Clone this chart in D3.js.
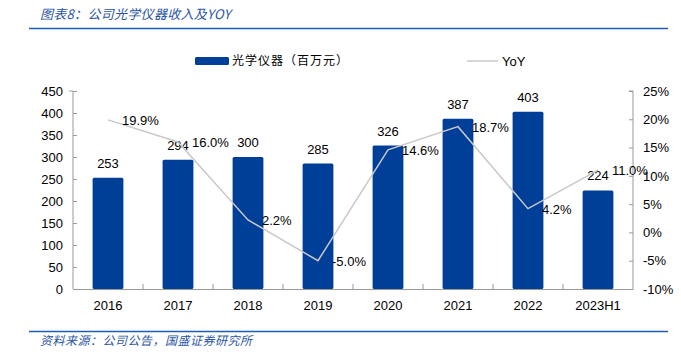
<!DOCTYPE html>
<html><head><meta charset="utf-8">
<script src="https://cdn.jsdelivr.net/npm/d3@7"></script>
<style>body{margin:0;background:#fff;}svg{display:block;font-family:"Liberation Sans",Arial,sans-serif;}</style>
</head><body><svg id="c" width="681" height="355"></svg>
<script>
const categories = ["2016","2017","2018","2019","2020","2021","2022","2023H1"];
const revenue = [253,294,300,285,326,387,403,224];
const yoy = [19.9,16.0,2.2,-5.0,14.6,18.7,4.2,11.0];
const leftTicks = [0,50,100,150,200,250,300,350,400,450];
const rightTicks = [-10,-5,0,5,10,15,20,25];

const svg = d3.select("#c");
const m = {l:73, r:633, t:91, b:289};
const x = d3.scaleBand().domain(categories).range([m.l,m.r]).paddingInner(0.56).paddingOuter(0.28);
const xb = d3.scaleBand().domain(categories).range([m.l,m.r]);
const yL = d3.scaleLinear().domain([0,450]).range([m.b,m.t]);
const yR = d3.scaleLinear().domain([-10,25]).range([m.b,m.t]);
const blue = "#003f98";
const fs = 13;

// title
svg.append("text").attr("x",40).attr("y",19).attr("fill","#2a55a6").attr("font-size",13)
  .attr("font-style","italic").attr("letter-spacing",0.3).attr("font-family","'Noto Sans CJK SC',sans-serif").text("图表8：公司光学仪器收入及YOY");
svg.append("line").attr("x1",29).attr("x2",668).attr("y1",28.5).attr("y2",28.5).attr("stroke","#1f5bb0").attr("stroke-width",1.5);
// footer
svg.append("line").attr("x1",29).attr("x2",668).attr("y1",331.5).attr("y2",331.5).attr("stroke","#1f5bb0").attr("stroke-width",1.5);
svg.append("text").attr("x",40).attr("y",345).attr("fill","#2a55a6").attr("font-size",12)
  .attr("font-style","italic").attr("letter-spacing",0.5).attr("font-family","'Noto Sans CJK SC',sans-serif").text("资料来源：公司公告，国盛证券研究所");

// legend
svg.append("rect").attr("x",195).attr("y",57).attr("width",34).attr("height",8).attr("rx",1.5).attr("fill",blue);
svg.append("text").attr("x",232).attr("y",65).attr("font-size",12).attr("fill","#000").attr("letter-spacing",1)
  .attr("font-family","'Noto Sans CJK SC',sans-serif").text("光学仪器（百万元）");
svg.append("line").attr("x1",467).attr("x2",498).attr("y1",61).attr("y2",61).attr("stroke","#c8c8c8").attr("stroke-width",1.5);
svg.append("text").attr("x",502).attr("y",66).attr("font-size",13).text("YoY");

// axes
const axL = svg.append("g").attr("transform",`translate(${m.l},0)`)
  .call(d3.axisLeft(yL).tickValues(leftTicks).tickSize(-4).tickPadding(10));
const axR = svg.append("g").attr("transform",`translate(${m.r},0)`)
  .call(d3.axisRight(yR).tickValues(rightTicks).tickSize(-4).tickPadding(10).tickFormat(d=>d+"%"));
const axB = svg.append("g").attr("transform",`translate(0,${m.b})`)
  .call(d3.axisBottom(xb).tickSize(0).tickPadding(12));
[axL,axR,axB].forEach(g=>{
  g.selectAll("path").attr("stroke","#999").attr("stroke-width",1);
  g.selectAll("line").attr("stroke","#999");
  g.selectAll("text").attr("font-size",fs).attr("fill","#000").attr("font-family","'Liberation Sans',Arial,sans-serif");
});
axL.select("path").attr("d",`M-4,${m.t}H0V${m.b}`);
axR.select("path").attr("d",`M-4,${m.t}H0V${m.b}`);
// x boundary ticks
const bounds = categories.slice(1).map(c=>xb(c));
svg.append("g").selectAll("line").data(bounds).join("line")
  .attr("x1",d=>d).attr("x2",d=>d).attr("y1",m.b-5).attr("y2",m.b).attr("stroke","#999");

// bars
svg.append("g").selectAll("rect").data(revenue).join("rect")
  .attr("x",(d,i)=>x(categories[i])).attr("width",x.bandwidth())
  .attr("y",d=>yL(d)).attr("height",d=>m.b-yL(d)).attr("rx",1.5).attr("fill",blue);
svg.append("g").selectAll("text").data(revenue).join("text")
  .attr("x",(d,i)=>x(categories[i])+x.bandwidth()/2).attr("y",d=>yL(d)-10)
  .attr("text-anchor","middle").attr("font-size",fs).text(d=>d);

// line
const cx = (i)=>xb(categories[i])+xb.bandwidth()/2;
svg.append("path").datum(yoy)
  .attr("d",d3.line().x((d,i)=>cx(i)).y(d=>yR(d)))
  .attr("fill","none").attr("stroke","#c8c8c8").attr("stroke-width",1.5);
svg.append("g").selectAll("text").data(yoy).join("text")
  .attr("x",(d,i)=>cx(i)+14).attr("y",d=>yR(d)+5)
  .attr("font-size",fs).text(d=>d.toFixed(1)+"%");
</script></body></html>
